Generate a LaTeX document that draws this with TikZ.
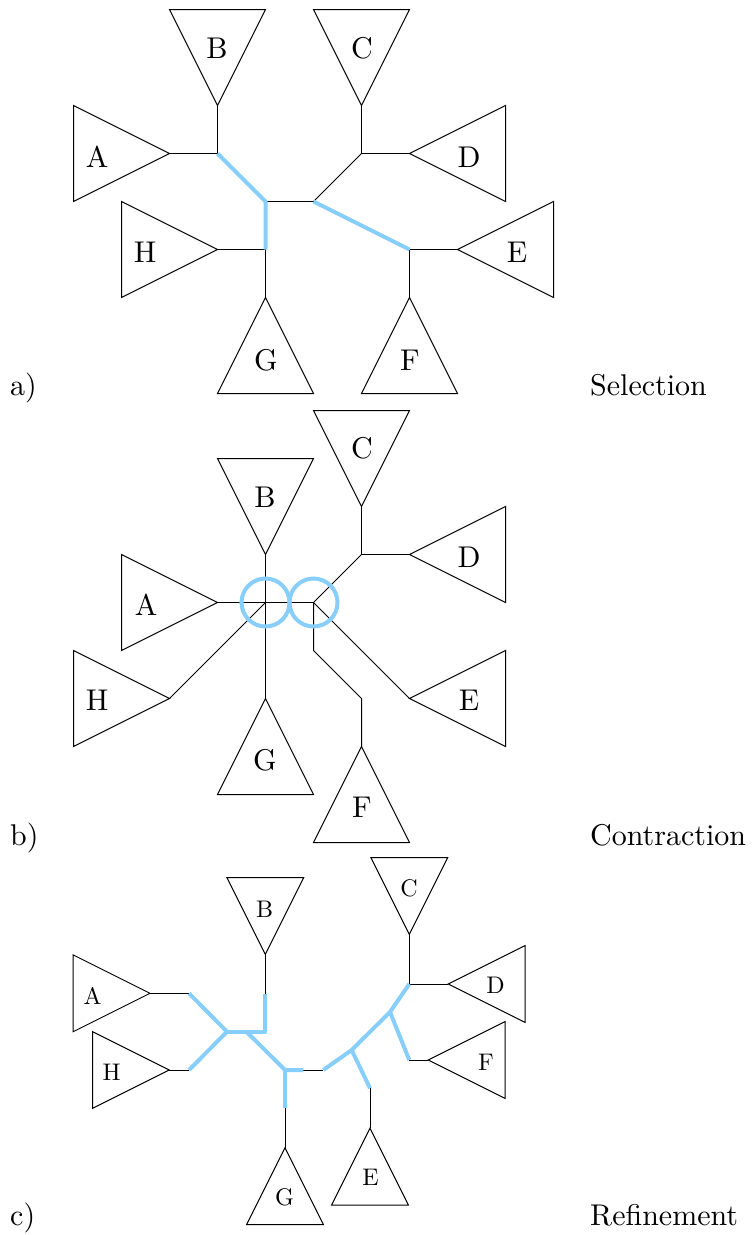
\documentclass[tikz,border=0pt]{standalone}
\definecolor{selblue}{RGB}{135,206,250}
\DeclareFontFamily{TU}{lmten}{}
\DeclareFontShape{TU}{lmten}{m}{n}{<-> "[lmroman10-regular]:mapping=tex-text"}{}
\tikzset{
  tri/.style={draw=black, line width=1pt, line join=miter},
  edge/.style={draw=black, line width=1pt},
  sel/.style={draw=selblue, line width=4pt, line join=round},
  ring/.style={draw=selblue, line width=4pt},
  lbl/.style={inner sep=0pt, font=\fontfamily{lmten}\fontsize{30}{36}\selectfont},
  slbl/.style={inner sep=0pt, font=\fontfamily{lmten}\fontsize{24}{29}\selectfont},
  caption/.style={inner sep=0pt, anchor=base west, font=\fontfamily{lmten}\fontsize{30}{36}\selectfont},
}
\begin{document}
\begin{tikzpicture}[x=1pt,y=-1pt]
\useasboundingbox (0,0) rectangle (754,1235);

% ---------------- panel a ----------------
\coordinate (aB) at (217.5,105.5);
\coordinate (aC) at (361.5,105.5);
\coordinate (aA) at (169.5,153.5);
\coordinate (aD) at (409.5,153.5);
\coordinate (aH) at (217.5,249.5);
\coordinate (aE) at (457.5,249.5);
\coordinate (aG) at (265.5,297.5);
\coordinate (aF) at (409.5,297.5);
\coordinate (aj1) at (217.5,153.5);
\coordinate (aj2) at (265.5,201.5);
\coordinate (aj3) at (313.5,201.5);
\coordinate (aj4) at (361.5,153.5);
\coordinate (aj5) at (265.5,249.5);
\coordinate (aj6) at (409.5,249.5);

\draw[tri] (169.5,9.5) -- (265.5,9.5) -- (aB) -- cycle;
\draw[tri] (313.5,9.5) -- (409.5,9.5) -- (aC) -- cycle;
\draw[tri] (73.5,105.5) -- (73.5,201.5) -- (aA) -- cycle;
\draw[tri] (505.5,105.5) -- (505.5,201.5) -- (aD) -- cycle;
\draw[tri] (121.5,201.5) -- (121.5,297.5) -- (aH) -- cycle;
\draw[tri] (553.5,201.5) -- (553.5,297.5) -- (aE) -- cycle;
\draw[tri] (217.5,393.5) -- (313.5,393.5) -- (aG) -- cycle;
\draw[tri] (361.5,393.5) -- (457.5,393.5) -- (aF) -- cycle;

\draw[edge] (aA) -- (aj1);
\draw[edge] (aB) -- (aj1);
\draw[edge] (aj2) -- (aj3);
\draw[edge] (aj3) -- (aj4);
\draw[edge] (aC) -- (aj4);
\draw[edge] (aj4) -- (aD);
\draw[edge] (aH) -- (aj5);
\draw[edge] (aj5) -- (aG);
\draw[edge] (aj6) -- (aE);
\draw[edge] (aj6) -- (aF);
\draw[sel] (aj1) -- (aj2) -- (aj5);
\draw[sel] (aj3) -- (aj6);

\node[lbl] (laB) at (217,48) {B};
\node[lbl] (laC) at (362,48) {C};
\node[lbl] (laA) at (97,157) {A};
\node[lbl] (laD) at (469,157) {D};
\node[lbl] (laH) at (145,252) {H};
\node[lbl] (laE) at (517,252) {E};
\node[lbl] (laG) at (266,360) {G};
\node[lbl] (laF) at (410,360) {F};
\node[caption] (capa) at (10,395) {a)};
\node[caption] (capsel) at (590,395) {Selection};

% ---------------- panel b ----------------
\coordinate (bC) at (361.5,506.5);
\coordinate (bB) at (265.5,554.5);
\coordinate (bD) at (409.5,554.5);
\coordinate (bA) at (217.5,602.5);
\coordinate (bH) at (169.5,698.5);
\coordinate (bG) at (265.5,698.5);
\coordinate (bE) at (409.5,698.5);
\coordinate (bF) at (361.5,746.5);
\coordinate (bj) at (361.5,554.5);
\coordinate (bc1) at (265.5,602.5);
\coordinate (bc2) at (313.5,602.5);
\coordinate (bf1) at (313.5,650.5);
\coordinate (bf2) at (361.5,698.5);

\draw[tri] (313.5,410.5) -- (409.5,410.5) -- (bC) -- cycle;
\draw[tri] (217.5,458.5) -- (313.5,458.5) -- (bB) -- cycle;
\draw[tri] (505.5,506.5) -- (505.5,602.5) -- (bD) -- cycle;
\draw[tri] (121.5,554.5) -- (121.5,650.5) -- (bA) -- cycle;
\draw[tri] (73.5,650.5) -- (73.5,746.5) -- (bH) -- cycle;
\draw[tri] (505.5,650.5) -- (505.5,746.5) -- (bE) -- cycle;
\draw[tri] (217.5,794.5) -- (313.5,794.5) -- (bG) -- cycle;
\draw[tri] (313.5,842.5) -- (409.5,842.5) -- (bF) -- cycle;

\draw[edge] (bC) -- (bj);
\draw[edge] (bj) -- (bD);
\draw[edge] (bA) -- (bc1);
\draw[edge] (bc1) -- (bc2);
\draw[edge] (bB) -- (bc1);
\draw[edge] (bc1) -- (bG);
\draw[edge] (bH) -- (bc1);
\draw[edge] (bc2) -- (bj);
\draw[edge] (bc2) -- (bE);
\draw[edge] (bc2) -- (bf1) -- (bf2) -- (bF);
\draw[ring] (bc1) circle[radius=24];
\draw[ring] (bc2) circle[radius=24];

\node[lbl] (lbC) at (362,448) {C};
\node[lbl] (lbB) at (265,497) {B};
\node[lbl] (lbD) at (469,557) {D};
\node[lbl] (lbA) at (146,605) {A};
\node[lbl] (lbH) at (97,700) {H};
\node[lbl] (lbE) at (469,700) {E};
\node[lbl] (lbG) at (265,760) {G};
\node[lbl] (lbF) at (362,807) {F};
\node[caption] (capb) at (10,845) {b)};
\node[caption] (capcon) at (590,845) {Contraction};

% ---------------- panel c ----------------
\coordinate (cB) at (265.3,954.3);
\coordinate (cC) at (409.3,934.3);
\coordinate (cD) at (448.3,984);
\coordinate (cA) at (150,993.3);
\coordinate (cH) at (169.3,1070);
\coordinate (cF) at (428.3,1060);
\coordinate (cE) at (370,1128.3);
\coordinate (cG) at (285,1147.7);
\coordinate (ca1) at (189,993.3);
\coordinate (ch1) at (189,1070);
\coordinate (cb1) at (265.3,994);
\coordinate (cb2) at (265.3,1031.7);
\coordinate (cj1) at (227,1031.7);
\coordinate (cjm) at (246.5,1031.7);
\coordinate (cg0) at (285,1070);
\coordinate (cg1) at (303.3,1070);
\coordinate (cg2) at (285,1107.7);
\coordinate (ck1) at (323.3,1070);
\coordinate (ck2) at (351.7,1050);
\coordinate (ce1) at (370,1088.3);
\coordinate (ck3) at (390,1012);
\coordinate (ccd) at (409.3,984);
\coordinate (cf1) at (409.3,1060);

\draw[tri] (226.9,877.6) -- (303.7,877.6) -- (cB) -- cycle;
\draw[tri] (370.9,857.6) -- (447.7,857.6) -- (cC) -- cycle;
\draw[tri] (525,945.6) -- (525,1022.4) -- (cD) -- cycle;
\draw[tri] (73.2,954.9) -- (73.2,1031.7) -- (cA) -- cycle;
\draw[tri] (92.5,1031.6) -- (92.5,1108.4) -- (cH) -- cycle;
\draw[tri] (505.1,1021.6) -- (505.1,1098.4) -- (cF) -- cycle;
\draw[tri] (331.6,1205.1) -- (408.4,1205.1) -- (cE) -- cycle;
\draw[tri] (246.6,1224.5) -- (323.4,1224.5) -- (cG) -- cycle;

\draw[edge] (cA) -- (ca1);
\draw[edge] (cH) -- (ch1);
\draw[edge] (cB) -- (cb1);
\draw[edge] (cg1) -- (ck1);
\draw[edge] (cg2) -- (cG);
\draw[edge] (ce1) -- (cE);
\draw[edge] (cC) -- (ccd);
\draw[edge] (ccd) -- (cD);
\draw[edge] (cf1) -- (cF);
\draw[sel] (ca1) -- (cj1) -- (ch1);
\draw[sel] (cj1) -- (cb2) -- (cb1);
\draw[sel] (cjm) -- (cg0) -- (cg1);
\draw[sel] (cg0) -- (cg2);
\draw[sel] (ck1) -- (ck2) -- (ck3) -- (ccd);
\draw[sel] (ck2) -- (ce1);
\draw[sel] (ck3) -- (cf1);

\node[slbl] (lcB) at (264.5,909) {B};
\node[slbl] (lcC) at (409,888.5) {C};
\node[slbl] (lcA) at (92.5,996) {A};
\node[slbl] (lcD) at (495.5,985) {D};
\node[slbl] (lcH) at (111.5,1072) {H};
\node[slbl] (lcF) at (486,1062) {F};
\node[slbl] (lcE) at (370.5,1177) {E};
\node[slbl] (lcG) at (284.5,1197) {G};
\node[caption] (capc) at (10,1225) {c)};
\node[caption] (capref) at (590,1225) {Refinement};
\end{tikzpicture}
\end{document}
